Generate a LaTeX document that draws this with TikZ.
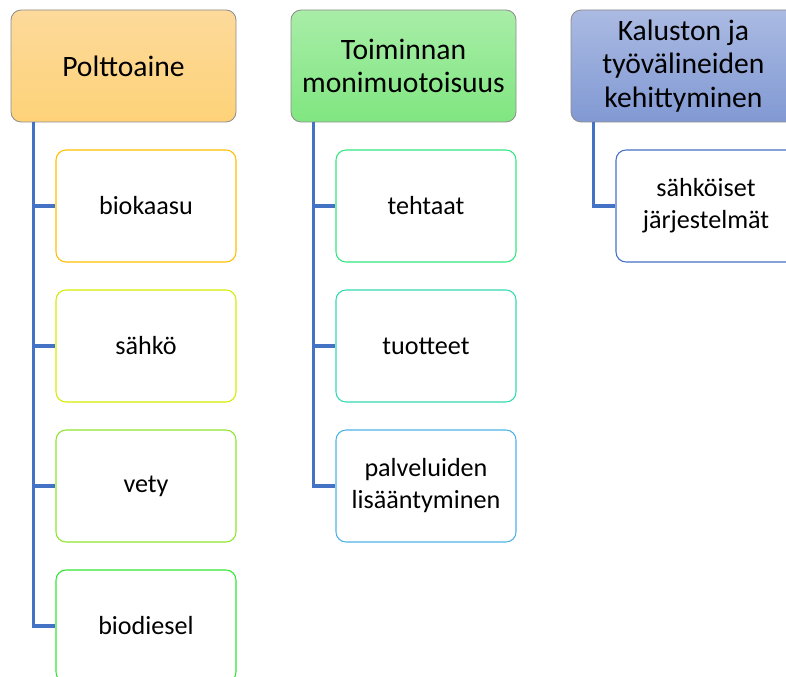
\documentclass[tikz,border=0pt]{standalone}
\usepackage{fontspec}
\setmainfont{Carlito}
\usetikzlibrary{positioning}

\definecolor{linkblue}{HTML}{4472C4}
\definecolor{hdrgray}{HTML}{8C8C8C}

\begin{document}
\begin{tikzpicture}[
    x=0.75pt, y=-0.75pt,
    header/.style={draw=hdrgray, line width=0.6pt, rounded corners=7.5pt,
        minimum width=168.75pt, minimum height=84pt, align=center,
        font=\fontsize{22.2}{25}\selectfont, inner sep=2pt},
    child/.style={draw, fill=white, line width=0.8pt, rounded corners=7.5pt,
        minimum width=135pt, minimum height=84pt, align=center,
        font=\fontsize{19.6}{24}\selectfont, inner sep=2pt},
    conn/.style={draw=linkblue, line width=2.5pt}
]
\useasboundingbox (0,0) rectangle (786,677);
\clip (0,0) rectangle (786,677);

% headers
\node[header, top color={rgb,255:red,253;green,218;blue,155}, bottom color={rgb,255:red,253;green,210;blue,120}] (fuel) at (123.5,66) {Polttoaine};
\node[header, top color={rgb,255:red,168;green,237;blue,168}, bottom color={rgb,255:red,128;green,230;blue,128}] (oper) at (403.5,66) {Toiminnan\\monimuotoisuus};
\node[header, top color={rgb,255:red,170;green,186;blue,226}, bottom color={rgb,255:red,129;green,153;blue,211}] (equip) at (683.5,66) {Kaluston ja\\työvälineiden\\kehittyminen};

% children
\node[child, draw={rgb,255:red,255;green,192;blue,0}] (biogas) at (146,206) {biokaasu};
\node[child, draw={rgb,255:red,212;green,236;blue,0}] (power) at (146,346) {sähkö};
\node[child, draw={rgb,255:red,140;green,230;blue,46}] (hydro) at (146,486) {vety};
\node[child, draw={rgb,255:red,51;green,230;blue,51}] (diesel) at (146,626) {biodiesel};

\node[child, draw={rgb,255:red,51;green,230;blue,128}] (plants) at (426,206) {tehtaat};
\node[child, draw={rgb,255:red,51;green,217;blue,179}] (products) at (426,346) {tuotteet};
\node[child, draw={rgb,255:red,77;green,179;blue,230}] (services) at (426,486) {palveluiden\\lisääntyminen};

\node[child, draw=linkblue] (elsys) at (706,206) {sähköiset\\järjestelmät};

% connectors
\draw[conn] ([xshift=17.25pt]fuel.south west) |- (biogas.west);
\draw[conn] ([xshift=17.25pt]fuel.south west) |- (power.west);
\draw[conn] ([xshift=17.25pt]fuel.south west) |- (hydro.west);
\draw[conn] ([xshift=17.25pt]fuel.south west) |- (diesel.west);

\draw[conn] ([xshift=17.25pt]oper.south west) |- (plants.west);
\draw[conn] ([xshift=17.25pt]oper.south west) |- (products.west);
\draw[conn] ([xshift=17.25pt]oper.south west) |- (services.west);

\draw[conn] ([xshift=17.25pt]equip.south west) |- (elsys.west);

\end{tikzpicture}
\end{document}
